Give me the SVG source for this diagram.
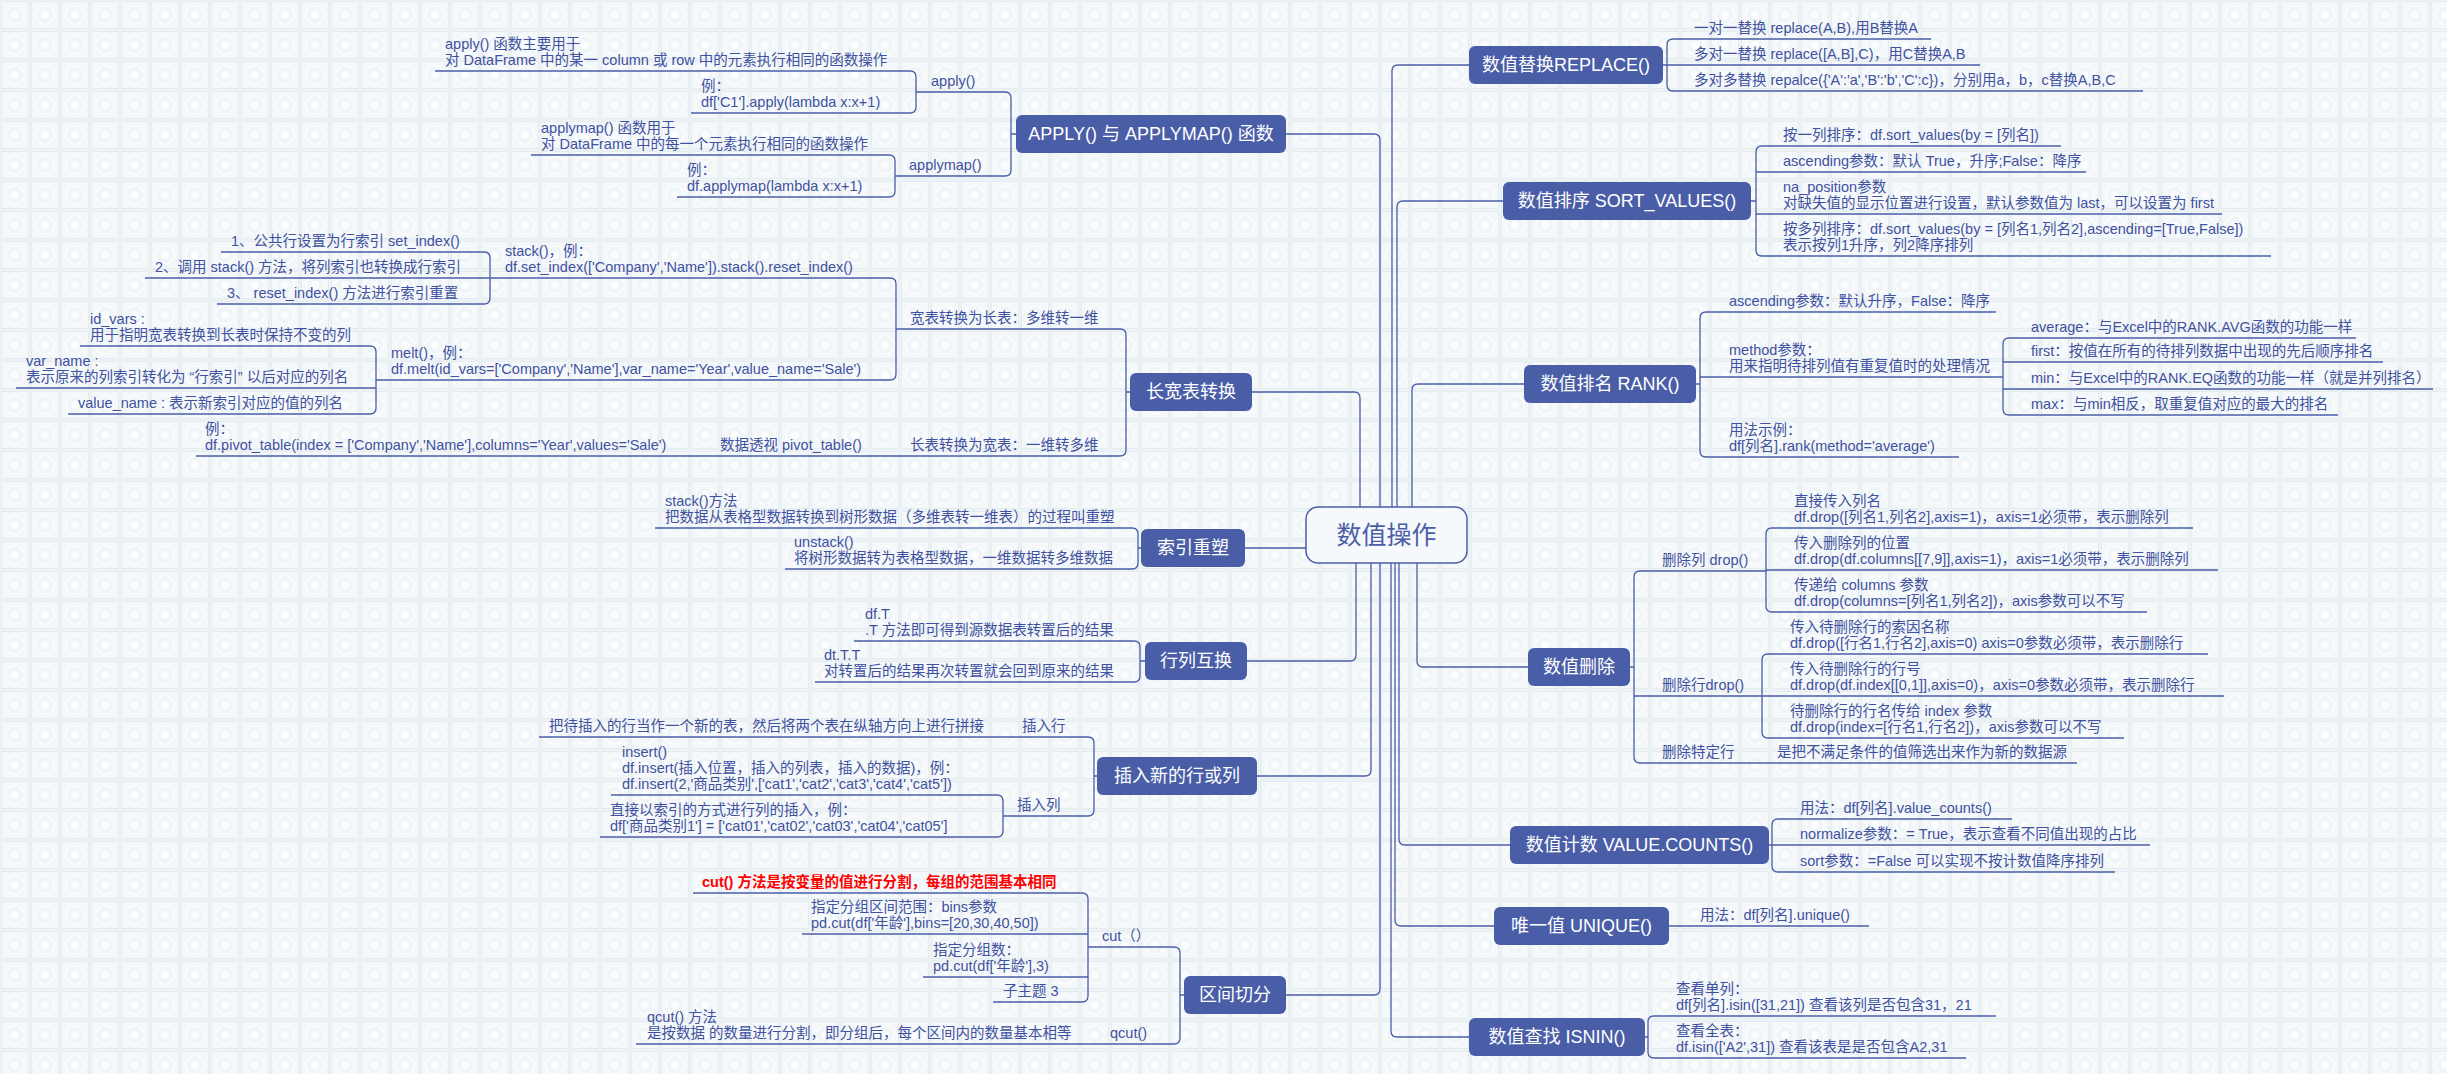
<svg xmlns="http://www.w3.org/2000/svg" width="2447" height="1074" viewBox="0 0 2447 1074">
<defs>
<pattern id="bg" width="30" height="30" patternUnits="userSpaceOnUse">
<rect width="30" height="30" fill="#edf2f5"/>
<rect x="1.5" y="1.5" width="27" height="27" fill="#f5f8fa" stroke="#e6edf1" stroke-width="1"/>
<circle cx="15" cy="15" r="9" fill="#f0f5f7" stroke="#fbfdfe" stroke-width="1.5"/>
<circle cx="15" cy="15" r="4" fill="#fbfdfe"/>
</pattern>
<style>
.t{font-family:"Liberation Sans","Noto Sans CJK SC",sans-serif;font-size:14.5px;fill:#3f51a0}
.red{fill:#ff0000;font-weight:bold}
.u{stroke:#4a5ea8;stroke-width:1.3;fill:none}
.c{stroke:#4a5ea8;stroke-width:1.3;fill:none}
.nr{fill:#4a5ea8}
.nt{font-family:"Liberation Sans","Noto Sans CJK SC",sans-serif;font-size:18px;fill:#ffffff;text-anchor:middle}
.ct{font-family:"Liberation Sans","Noto Sans CJK SC",sans-serif;font-size:25px;fill:#4a5ea8;text-anchor:middle}
</style>
</defs>
<rect width="2447" height="1074" fill="url(#bg)"/>

<g id="connectors">
<path class="c" d="M1286,134 H1374 Q1380,134 1380,140 V507"/>
<path class="c" d="M1252,392 H1354 Q1360,392 1360,398 V507"/>
<path class="c" d="M1245,548 H1306"/>
<path class="c" d="M1247,661 H1350 Q1356,661 1356,655 V563"/>
<path class="c" d="M1257,776 H1365 Q1371,776 1371,770 V563"/>
<path class="c" d="M1286,995 H1374 Q1380,995 1380,989 V563"/>
<path class="c" d="M1469,65 H1398 Q1392,65 1392,71 V507"/>
<path class="c" d="M1503,201 H1403 Q1397,201 1397,207 V507"/>
<path class="c" d="M1524,384 H1418 Q1412,384 1412,390 V507"/>
<path class="c" d="M1528,667 H1423 Q1417,667 1417,661 V563"/>
<path class="c" d="M1510,845 H1405 Q1399,845 1399,839 V563"/>
<path class="c" d="M1494,926 H1401 Q1395,926 1395,920 V563"/>
<path class="c" d="M1469,1037 H1397 Q1391,1037 1391,1031 V563"/>
<path class="c" d="M910,71 Q916,71 916,77 V107 Q916,113 910,113"/>
<path class="c" d="M889,155 Q895,155 895,161 V191 Q895,197 889,197"/>
<path class="c" d="M1005,92 Q1011,92 1011,98 V170 Q1011,176 1005,176 M1011,134 H1016"/>
<path class="c" d="M484,252 Q490,252 490,258 V298 Q490,304 484,304"/>
<path class="c" d="M370,346 Q376,346 376,352 V408 Q376,414 370,414"/>
<path class="c" d="M890,278 Q896,278 896,284 V374 Q896,380 890,380"/>
<path class="c" d="M1120,329 Q1126,329 1126,335 V450 Q1126,456 1120,456 M1126,392 H1130"/>
<path class="c" d="M1132,528 Q1138,528 1138,534 V563 Q1138,569 1132,569 M1138,548 H1141"/>
<path class="c" d="M1134,641 Q1140,641 1140,647 V676 Q1140,682 1134,682 M1140,661 H1145"/>
<path class="c" d="M997,795 Q1003,795 1003,801 V831 Q1003,837 997,837"/>
<path class="c" d="M1088,737 Q1094,737 1094,743 V810 Q1094,816 1088,816 M1094,776 H1097"/>
<path class="c" d="M1082,893 Q1088,893 1088,899 V996 Q1088,1002 1082,1002"/>
<path class="c" d="M1174,947 Q1180,947 1180,953 V1038 Q1180,1044 1174,1044 M1180,995 H1184"/>
<path class="c" d="M1673,39 Q1667,39 1667,45 V85 Q1667,91 1673,91"/>
<path class="c" d="M1762,146 Q1756,146 1756,152 V250 Q1756,256 1762,256 M1751,201 H1756"/>
<path class="c" d="M1706,312 Q1700,312 1700,318 V451 Q1700,457 1706,457 M1696,384 H1700"/>
<path class="c" d="M2009,338 Q2003,338 2003,344 V409 Q2003,415 2009,415"/>
<path class="c" d="M1640,571 Q1634,571 1634,577 V757 Q1634,763 1640,763 M1630,667 H1634"/>
<path class="c" d="M1772,528 Q1766,528 1766,534 V606 Q1766,612 1772,612"/>
<path class="c" d="M1768,654 Q1762,654 1762,660 V732 Q1762,738 1768,738"/>
<path class="c" d="M1778,819 Q1772,819 1772,825 V866 Q1772,872 1778,872 M1769,845 H1772"/>
<path class="c" d="M1654,1016 Q1648,1016 1648,1022 V1052 Q1648,1058 1654,1058 M1645,1037 H1648"/>
</g>

<g id="center">
<rect x="1306" y="507" width="161" height="56" rx="12" fill="#f6f9fb" stroke="#4a5ea8" stroke-width="1.5"/>
<text class="ct" x="1386.5" y="544">数值操作</text>
</g>

<g id="n-apply"><rect class="nr" x="1016" y="115" width="270" height="38" rx="6"/><text class="nt" x="1151" y="140">APPLY() 与 APPLYMAP() 函数</text></g>
<g id="n-changkuan"><rect class="nr" x="1130" y="373" width="122" height="38" rx="6"/><text class="nt" x="1191" y="398">长宽表转换</text></g>
<g id="n-suoyin"><rect class="nr" x="1141" y="529" width="104" height="38" rx="6"/><text class="nt" x="1193" y="554">索引重塑</text></g>
<g id="n-hanglie"><rect class="nr" x="1145" y="642" width="102" height="38" rx="6"/><text class="nt" x="1196" y="667">行列互换</text></g>
<g id="n-charu"><rect class="nr" x="1097" y="757" width="160" height="38" rx="6"/><text class="nt" x="1177" y="782">插入新的行或列</text></g>
<g id="n-qujian"><rect class="nr" x="1184" y="976" width="102" height="38" rx="6"/><text class="nt" x="1235" y="1001">区间切分</text></g>
<g id="n-replace"><rect class="nr" x="1469" y="46" width="194" height="38" rx="6"/><text class="nt" x="1566" y="71">数值替换REPLACE()</text></g>
<g id="n-sort"><rect class="nr" x="1503" y="182" width="248" height="38" rx="6"/><text class="nt" x="1627" y="207">数值排序 SORT_VALUES()</text></g>
<g id="n-rank"><rect class="nr" x="1524" y="365" width="172" height="38" rx="6"/><text class="nt" x="1610" y="390">数值排名 RANK()</text></g>
<g id="n-shanchu"><rect class="nr" x="1528" y="648" width="102" height="38" rx="6"/><text class="nt" x="1579" y="673">数值删除</text></g>
<g id="n-count"><rect class="nr" x="1510" y="826" width="259" height="38" rx="6"/><text class="nt" x="1639.5" y="851">数值计数 VALUE.COUNTS()</text></g>
<g id="n-unique"><rect class="nr" x="1494" y="907" width="175" height="38" rx="6"/><text class="nt" x="1581.5" y="932">唯一值 UNIQUE()</text></g>
<g id="n-isin"><rect class="nr" x="1469" y="1018" width="176" height="38" rx="6"/><text class="nt" x="1557" y="1043">数值查找 ISNIN()</text></g>

<g id="l-apply-desc"><text class="t"><tspan x="445" y="49">apply() 函数主要用于</tspan><tspan x="445" y="65">对 DataFrame 中的某一 column 或 row 中的元素执行相同的函数操作</tspan></text><path class="u" d="M435,71 H910"/></g>
<g id="l-apply-ex"><text class="t"><tspan x="701" y="91">例：</tspan><tspan x="701" y="107">df['C1'].apply(lambda x:x+1)</tspan></text><path class="u" d="M691,113 H910"/></g>
<g id="l-apply"><text class="t" x="931" y="86">apply()</text><path class="u" d="M916,92 H1005"/></g>
<g id="l-applymap-desc"><text class="t"><tspan x="541" y="133">applymap() 函数用于</tspan><tspan x="541" y="149">对 DataFrame 中的每一个元素执行相同的函数操作</tspan></text><path class="u" d="M531,155 H889"/></g>
<g id="l-applymap-ex"><text class="t"><tspan x="687" y="175">例：</tspan><tspan x="687" y="191">df.applymap(lambda x:x+1)</tspan></text><path class="u" d="M677,197 H889"/></g>
<g id="l-applymap"><text class="t" x="909" y="170">applymap()</text><path class="u" d="M895,176 H1005"/></g>
<g id="l-s1"><text class="t" x="231" y="246">1、公共行设置为行索引 set_index()</text><path class="u" d="M221,252 H484"/></g>
<g id="l-s2"><text class="t" x="155" y="272">2、调用 stack() 方法，将列索引也转换成行索引</text><path class="u" d="M145,278 H490"/></g>
<g id="l-s3"><text class="t" x="227" y="298">3、 reset_index() 方法进行索引重置</text><path class="u" d="M217,304 H484"/></g>
<g id="l-stack"><text class="t"><tspan x="505" y="256">stack()，例：</tspan><tspan x="505" y="272">df.set_index(['Company','Name']).stack().reset_index()</tspan></text><path class="u" d="M490,278 H890"/></g>
<g id="l-idvars"><text class="t"><tspan x="90" y="324">id_vars :</tspan><tspan x="90" y="340">用于指明宽表转换到长表时保持不变的列</tspan></text><path class="u" d="M80,346 H370"/></g>
<g id="l-varname"><text class="t"><tspan x="26" y="366">var_name :</tspan><tspan x="26" y="382">表示原来的列索引转化为 “行索引” 以后对应的列名</tspan></text><path class="u" d="M16,388 H376"/></g>
<g id="l-valuename"><text class="t" x="78" y="408">value_name : 表示新索引对应的值的列名</text><path class="u" d="M68,414 H370"/></g>
<g id="l-melt"><text class="t"><tspan x="391" y="358">melt()，例：</tspan><tspan x="391" y="374">df.melt(id_vars=['Company','Name'],var_name='Year',value_name='Sale')</tspan></text><path class="u" d="M376,380 H890"/></g>
<g id="l-w2l"><text class="t" x="910" y="323">宽表转换为长表：多维转一维</text><path class="u" d="M896,329 H1120"/></g>
<g id="l-pivot-ex"><text class="t"><tspan x="205" y="434">例：</tspan><tspan x="205" y="450">df.pivot_table(index = ['Company','Name'],columns='Year',values='Sale')</tspan></text><path class="u" d="M196,456 H710"/></g>
<g id="l-pivot"><text class="t" x="720" y="450">数据透视 pivot_table()</text><path class="u" d="M710,456 H896"/></g>
<g id="l-l2w"><text class="t" x="910" y="450">长表转换为宽表：一维转多维</text><path class="u" d="M896,456 H1120"/></g>
<g id="l-stackm"><text class="t"><tspan x="665" y="506">stack()方法</tspan><tspan x="665" y="522">把数据从表格型数据转换到树形数据（多维表转一维表）的过程叫重塑</tspan></text><path class="u" d="M655,528 H1132"/></g>
<g id="l-unstack"><text class="t"><tspan x="794" y="547">unstack()</tspan><tspan x="794" y="563">将树形数据转为表格型数据，一维数据转多维数据</tspan></text><path class="u" d="M785,569 H1132"/></g>
<g id="l-dft"><text class="t"><tspan x="865" y="619">df.T</tspan><tspan x="865" y="635">.T 方法即可得到源数据表转置后的结果</tspan></text><path class="u" d="M854,641 H1134"/></g>
<g id="l-dttt"><text class="t"><tspan x="824" y="660">dt.T.T</tspan><tspan x="824" y="676">对转置后的结果再次转置就会回到原来的结果</tspan></text><path class="u" d="M815,682 H1134"/></g>
<g id="l-row-desc"><text class="t" x="549" y="731">把待插入的行当作一个新的表，然后将两个表在纵轴方向上进行拼接</text><path class="u" d="M539,737 H1005"/></g>
<g id="l-row"><text class="t" x="1022" y="731">插入行</text><path class="u" d="M1005,737 H1088"/></g>
<g id="l-insert"><text class="t"><tspan x="622" y="757">insert()</tspan><tspan x="622" y="773">df.insert(插入位置，插入的列表，插入的数据)，例：</tspan><tspan x="622" y="789">df.insert(2,'商品类别',['cat1','cat2','cat3','cat4','cat5'])</tspan></text><path class="u" d="M611,795 H997"/></g>
<g id="l-colidx"><text class="t"><tspan x="610" y="815">直接以索引的方式进行列的插入，例：</tspan><tspan x="610" y="831">df['商品类别1'] = ['cat01','cat02','cat03','cat04','cat05']</tspan></text><path class="u" d="M600,837 H997"/></g>
<g id="l-col"><text class="t" x="1017" y="810">插入列</text><path class="u" d="M1003,816 H1088"/></g>
<g id="l-cut-red"><text class="t red" x="702" y="887">cut() 方法是按变量的值进行分割，每组的范围基本相同</text><path class="u" d="M693,893 H1082"/></g>
<g id="l-bins"><text class="t"><tspan x="811" y="912">指定分组区间范围：bins参数</tspan><tspan x="811" y="928">pd.cut(df['年龄'],bins=[20,30,40,50])</tspan></text><path class="u" d="M802,934 H1088"/></g>
<g id="l-groups"><text class="t"><tspan x="933" y="955">指定分组数：</tspan><tspan x="933" y="971">pd.cut(df['年龄'],3)</tspan></text><path class="u" d="M923,977 H1088"/></g>
<g id="l-sub3"><text class="t" x="1003" y="996">子主题 3</text><path class="u" d="M993,1002 H1082"/></g>
<g id="l-cut"><text class="t" x="1102" y="941">cut（）</text><path class="u" d="M1088,947 H1174"/></g>
<g id="l-qcut-desc"><text class="t"><tspan x="647" y="1022">qcut() 方法</tspan><tspan x="647" y="1038">是按数据 的数量进行分割，即分组后，每个区间内的数量基本相等</tspan></text><path class="u" d="M636,1044 H1100"/></g>
<g id="l-qcut"><text class="t" x="1110" y="1038">qcut()</text><path class="u" d="M1100,1044 H1174"/></g>

<g id="r-rep1"><text class="t" x="1694" y="33">一对一替换 replace(A,B),用B替换A</text><path class="u" d="M1673,39 H1931"/></g>
<g id="r-rep2"><text class="t" x="1694" y="59">多对一替换 replace([A,B],C)，用C替换A,B</text><path class="u" d="M1663,65 H1980"/></g>
<g id="r-rep3"><text class="t" x="1694" y="85">多对多替换 repalce({'A':'a','B':'b','C':c})，分别用a，b，c替换A,B,C</text><path class="u" d="M1673,91 H2143"/></g>
<g id="r-sort1"><text class="t" x="1783" y="140">按一列排序：df.sort_values(by = [列名])</text><path class="u" d="M1762,146 H2061"/></g>
<g id="r-sort2"><text class="t" x="1783" y="166">ascending参数：默认 True，升序;False：降序</text><path class="u" d="M1756,172 H2086"/></g>
<g id="r-sort3"><text class="t"><tspan x="1783" y="192">na_position参数</tspan><tspan x="1783" y="208">对缺失值的显示位置进行设置，默认参数值为 last，可以设置为 first</tspan></text><path class="u" d="M1756,214 H2222"/></g>
<g id="r-sort4"><text class="t"><tspan x="1783" y="234">按多列排序：df.sort_values(by = [列名1,列名2],ascending=[True,False])</tspan><tspan x="1783" y="250">表示按列1升序，列2降序排列</tspan></text><path class="u" d="M1762,256 H2271"/></g>
<g id="r-rank1"><text class="t" x="1729" y="306">ascending参数：默认升序，False：降序</text><path class="u" d="M1706,312 H1996"/></g>
<g id="r-method"><text class="t"><tspan x="1729" y="355">method参数：</tspan><tspan x="1729" y="371">用来指明待排列值有重复值时的处理情况</tspan></text><path class="u" d="M1700,377 H2003"/></g>
<g id="r-avg"><text class="t" x="2031" y="332">average：与Excel中的RANK.AVG函数的功能一样</text><path class="u" d="M2009,338 H2356"/></g>
<g id="r-first"><text class="t" x="2031" y="356">first：按值在所有的待排列数据中出现的先后顺序排名</text><path class="u" d="M2003,362 H2383"/></g>
<g id="r-min"><text class="t" x="2031" y="383">min：与Excel中的RANK.EQ函数的功能一样（就是并列排名）</text><path class="u" d="M2003,389 H2433"/></g>
<g id="r-max"><text class="t" x="2031" y="409">max：与min相反，取重复值对应的最大的排名</text><path class="u" d="M2009,415 H2338"/></g>
<g id="r-rankex"><text class="t"><tspan x="1729" y="435">用法示例：</tspan><tspan x="1729" y="451">df[列名].rank(method='average')</tspan></text><path class="u" d="M1706,457 H1959"/></g>
<g id="r-dc1"><text class="t"><tspan x="1794" y="506">直接传入列名</tspan><tspan x="1794" y="522">df.drop([列名1,列名2],axis=1)，axis=1必须带，表示删除列</tspan></text><path class="u" d="M1772,528 H2193"/></g>
<g id="r-dc2"><text class="t"><tspan x="1794" y="548">传入删除列的位置</tspan><tspan x="1794" y="564">df.drop(df.columns[[7,9]],axis=1)，axis=1必须带，表示删除列</tspan></text><path class="u" d="M1766,570 H2218"/></g>
<g id="r-dc3"><text class="t"><tspan x="1794" y="590">传递给 columns 参数</tspan><tspan x="1794" y="606">df.drop(columns=[列名1,列名2])，axis参数可以不写</tspan></text><path class="u" d="M1772,612 H2147"/></g>
<g id="r-dropcol"><text class="t" x="1662" y="565">删除列 drop()</text><path class="u" d="M1640,571 H1766"/></g>
<g id="r-dr1"><text class="t"><tspan x="1790" y="632">传入待删除行的索因名称</tspan><tspan x="1790" y="648">df.drop([行名1,行名2],axis=0) axis=0参数必须带，表示删除行</tspan></text><path class="u" d="M1768,654 H2208"/></g>
<g id="r-dr2"><text class="t"><tspan x="1790" y="674">传入待删除行的行号</tspan><tspan x="1790" y="690">df.drop(df.index[[0,1]],axis=0)，axis=0参数必须带，表示删除行</tspan></text><path class="u" d="M1762,696 H2224"/></g>
<g id="r-dr3"><text class="t"><tspan x="1790" y="716">待删除行的行名传给 index 参数</tspan><tspan x="1790" y="732">df.drop(index=[行名1,行名2])，axis参数可以不写</tspan></text><path class="u" d="M1768,738 H2124"/></g>
<g id="r-droprow"><text class="t" x="1662" y="690">删除行drop()</text><path class="u" d="M1634,696 H1762"/></g>
<g id="r-dropspec"><text class="t" x="1662" y="757">删除特定行</text><path class="u" d="M1640,763 H1777"/></g>
<g id="r-dropspec-desc"><text class="t" x="1777" y="757">是把不满足条件的值筛选出来作为新的数据源</text><path class="u" d="M1777,763 H2077"/></g>
<g id="r-vc1"><text class="t" x="1800" y="813">用法：df[列名].value_counts()</text><path class="u" d="M1778,819 H2012"/></g>
<g id="r-vc2"><text class="t" x="1800" y="839">normalize参数：= True，表示查看不同值出现的占比</text><path class="u" d="M1772,845 H2150"/></g>
<g id="r-vc3"><text class="t" x="1800" y="866">sort参数：=False 可以实现不按计数值降序排列</text><path class="u" d="M1778,872 H2115"/></g>
<g id="r-unique"><text class="t" x="1700" y="920">用法：df[列名].unique()</text><path class="u" d="M1669,926 H1869"/></g>
<g id="r-isin1"><text class="t"><tspan x="1676" y="994">查看单列：</tspan><tspan x="1676" y="1010">df[列名].isin([31,21]) 查看该列是否包含31，21</tspan></text><path class="u" d="M1654,1016 H1996"/></g>
<g id="r-isin2"><text class="t"><tspan x="1676" y="1036">查看全表：</tspan><tspan x="1676" y="1052">df.isin(['A2',31]) 查看该表是是否包含A2,31</tspan></text><path class="u" d="M1654,1058 H1966"/></g>
</svg>
